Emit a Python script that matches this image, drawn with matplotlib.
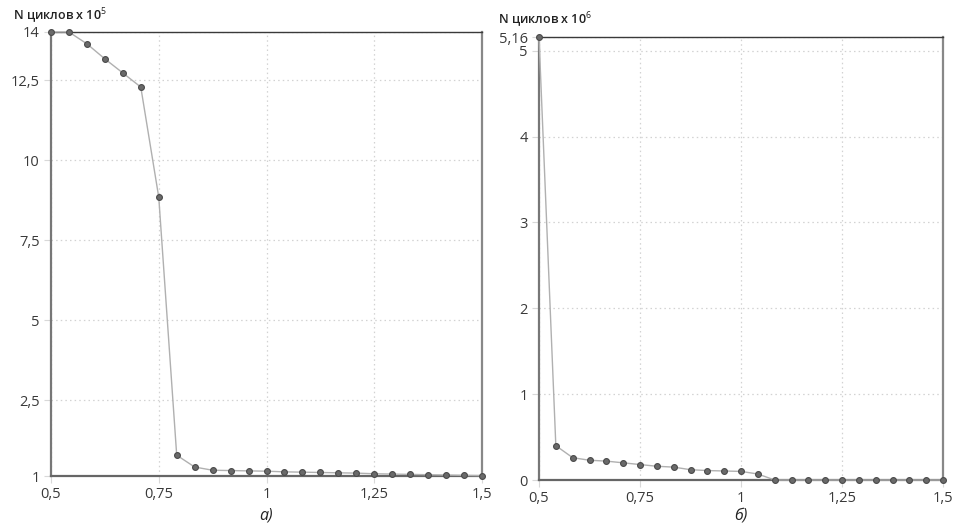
import numpy as np
import matplotlib
matplotlib.use("Agg")
import matplotlib.pyplot as plt

plt.rcParams['font.family'] = ['Open Sans', 'DejaVu Sans']
plt.rcParams['mathtext.fontset'] = 'custom'
plt.rcParams['mathtext.rm'] = 'Open Sans'

# x values: 0.5 .. 1.5, step 1/24
x_vals = [0.5 + k / 24 for k in range(25)]

# panel a) - N cycles x 10^5 (as drawn on the chart scale)
cycles_a = [14.0, 14.0, 13.63, 13.16, 12.72, 12.28, 8.84, 0.78, 0.41, 0.31,
            0.30, 0.29, 0.28, 0.26, 0.25, 0.24, 0.23, 0.22, 0.20, 0.19,
            0.18, 0.17, 0.16, 0.15, 0.14]
yticks_a = [0.13, 2.5, 5, 7.5, 10, 12.5, 14]
yticklabels_a = ['1', '2,5', '5', '7,5', '10', '12,5', '14']

# panel б) - N cycles x 10^6
cycles_b = [5.16, 0.40, 0.26, 0.23, 0.22, 0.20, 0.18, 0.16, 0.15, 0.12,
            0.11, 0.105, 0.10, 0.07, 0.0, 0.0, 0.0, 0.0, 0.0, 0.0,
            0.0, 0.0, 0.0, 0.0, 0.0]
yticks_b = [0, 1, 2, 3, 4, 5, 5.16]
yticklabels_b = ['0', '1', '2', '3', '4', '5', '5,16']

xticks = [0.5, 0.75, 1, 1.25, 1.5]
xticklabels = ['0,5', '0,75', '1', '1,25', '1,5']

W, H = 957, 524
fig = plt.figure(figsize=(W / 100, H / 100), dpi=100)


def px_axes(l, t, r, b):
    return fig.add_axes([l / W, 1 - b / H, (r - l) / W, (b - t) / H])


def style_axes(ax, yticks, ylabels, ylim):
    ax.set_xlim(0.5, 1.5)
    ax.set_ylim(*ylim)
    ax.set_xticks(xticks)
    ax.set_xticklabels(xticklabels)
    ax.set_yticks(yticks)
    ax.set_yticklabels(ylabels)
    ax.grid(True, color='#d2d2d2', linestyle=(0, (1.2, 2.5)), linewidth=0.9)
    ax.tick_params(length=5, color='#d8d8d8', width=0.8, labelsize=10.5,
                   labelcolor='#3a3a3a', pad=3)
    ax.spines['left'].set_color('#777777')
    ax.spines['left'].set_linewidth(1.6)
    ax.spines['bottom'].set_color('#666666')
    ax.spines['bottom'].set_linewidth(1.6)
    ax.spines['top'].set_color('#3a3a3a')
    ax.spines['top'].set_linewidth(1.0)
    ax.spines['right'].set_color('#888888')
    ax.spines['right'].set_linewidth(1.6)
    ax.set_axisbelow(True)


def draw_series(ax, y):
    ax.plot(x_vals, y, color='#b0b0b0', linewidth=1.0, zorder=3,
            marker='o', markersize=4.2, markerfacecolor='#6a6a6a',
            markeredgecolor='#4a4a4a', markeredgewidth=0.8, clip_on=False)


ax1 = px_axes(51, 32, 482, 476)
style_axes(ax1, yticks_a, yticklabels_a, (0.13, 14))
draw_series(ax1, cycles_a)

ax2 = px_axes(539, 37, 943, 480)
style_axes(ax2, yticks_b, yticklabels_b, (0, 5.16))
draw_series(ax2, cycles_b)

fig.text(13 / W, 1 - 16 / H, r'N циклов x 10$^{5}$', fontsize=9,
         color='#222222', va='center', ha='left', fontweight='semibold')
fig.text(498 / W, 1 - 20 / H, r'N циклов x 10$^{6}$', fontsize=9,
         color='#222222', va='center', ha='left', fontweight='semibold')

fig.text(266 / W, 1 - 515 / H, 'а)', fontsize=11.5, style='italic',
         color='#222222', ha='center', va='center')
fig.text(741 / W, 1 - 516 / H, 'б)', fontsize=11.5, style='italic',
         color='#222222', ha='center', va='center')

fig.savefig('out.png', dpi=100)
